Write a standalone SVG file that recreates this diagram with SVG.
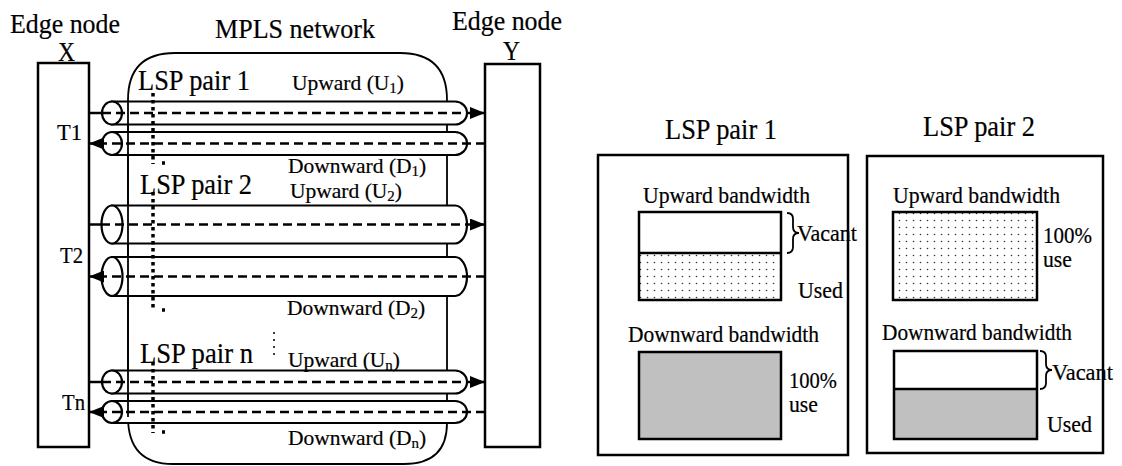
<svg xmlns="http://www.w3.org/2000/svg" width="1122" height="466" viewBox="0 0 1122 466" font-family="'Liberation Serif', 'DejaVu Serif', serif">
  <style>
    text { font-family: 'Liberation Serif', 'Times New Roman', 'DejaVu Serif', serif; fill: #000; stroke: #000; stroke-width: 0.2; }
    .h { font-size: 27px; }
    .t { font-size: 29px; }
    .lbl { font-size: 23px; }
    .flowlbl { font-size: 21.5px; }
    .sub { font-size: 15px; }
    .box { fill: #fff; stroke: #000; stroke-width: 2.5; }
    .frame { fill: none; stroke: #000; stroke-width: 2.5; }
    .cloud { fill: none; stroke: #000; stroke-width: 1.8; }
    .tube { fill: #fff; stroke: #000; stroke-width: 2.2; }
    .flow { stroke: #000; stroke-width: 2.5; stroke-dasharray: 9 5; fill: none; }
    .solid { stroke: #000; stroke-width: 2.5; }
    .pair { stroke: #000; stroke-width: 3.5; stroke-dasharray: 3.5 3.5; fill: none; }
    .brace { fill: none; stroke: #000; stroke-width: 1.8; }
    .bar { stroke: #000; stroke-width: 2.5; }
  </style>
  <defs>
    <marker id="head" viewBox="0 0 15 12" refX="15" refY="6" markerWidth="15" markerHeight="12" markerUnits="userSpaceOnUse" orient="auto">
      <path d="M0,0 L15,6 L0,12 z" fill="#000"/>
    </marker>
    <pattern id="dots" width="7" height="7" patternUnits="userSpaceOnUse">
      <circle cx="3.5" cy="3.5" r="0.8" fill="#333"/>
    </pattern>
  </defs>
  <rect width="1122" height="466" fill="#fff"/>

  <!-- MPLS network cloud -->
  <g id="mpls">
    <path class="cloud" d="M128,100 Q128,53 175,53 H400 Q447,53 447,100 V423 Q447,464 404,464 H173 Q128,464 128,417 Z"/>
    <text class="h" x="215" y="38" textLength="160" lengthAdjust="spacingAndGlyphs">MPLS network</text>
  </g>

  <!-- Edge node X -->
  <g id="edge-x">
    <rect class="box" x="38" y="63" width="51" height="384"/>
    <text class="h" x="10" y="33" textLength="110" lengthAdjust="spacingAndGlyphs">Edge node</text>
    <text class="h" x="58" y="61" textLength="17" lengthAdjust="spacingAndGlyphs">X</text>
    <text class="lbl" x="57" y="140" textLength="25" lengthAdjust="spacingAndGlyphs">T1</text>
    <text class="lbl" x="60" y="263" textLength="23" lengthAdjust="spacingAndGlyphs">T2</text>
    <text class="lbl" x="62" y="410" textLength="23" lengthAdjust="spacingAndGlyphs">Tn</text>
  </g>

  <!-- Edge node Y -->
  <g id="edge-y">
    <rect class="box" x="485" y="64" width="55" height="383"/>
    <text class="h" x="452" y="30" textLength="110" lengthAdjust="spacingAndGlyphs">Edge node</text>
    <text class="h" x="503" y="60" textLength="17" lengthAdjust="spacingAndGlyphs">Y</text>
  </g>

  <!-- LSP tubes -->
  <g id="tubes">
    <path class="tube" d="M112,101.5 H455 A12,11.5 0 0 1 455,124.5 H112 Z"/>
    <ellipse class="tube" cx="112" cy="113" rx="10" ry="11.5"/>
    <path class="tube" d="M112,132 H455 A12,11.5 0 0 1 455,155 H112 Z"/>
    <ellipse class="tube" cx="112" cy="143.5" rx="10" ry="11.5"/>

    <path class="tube" d="M112,205.5 H455 A12,19 0 0 1 455,243.5 H112 Z"/>
    <ellipse class="tube" cx="112" cy="224.5" rx="10.5" ry="19"/>
    <path class="tube" d="M112,257 H455 A12,19.5 0 0 1 455,296 H112 Z"/>
    <ellipse class="tube" cx="112" cy="276.5" rx="10.5" ry="19.5"/>

    <path class="tube" d="M112,370.5 H455 A12,11.5 0 0 1 455,393.5 H112 Z"/>
    <ellipse class="tube" cx="112" cy="382" rx="10" ry="11.5"/>
    <path class="tube" d="M112,401 H455 A12,11 0 0 1 455,423 H112 Z"/>
    <ellipse class="tube" cx="112" cy="412" rx="10" ry="11"/>
    <!-- cloud edge seen through the tubes -->
    <line x1="128" y1="100" x2="128" y2="417" stroke="#000" stroke-width="1.8"/>
  </g>

  <!-- traffic flows -->
  <g id="connectors">
    <line class="solid" x1="89" y1="113" x2="102" y2="113"/>
    <line class="flow" x1="102" y1="113" x2="485" y2="113" marker-end="url(#head)"/>
    <line class="flow" x1="485" y1="143.5" x2="89" y2="143.5" marker-end="url(#head)"/>

    <line class="solid" x1="89" y1="224.5" x2="101" y2="224.5"/>
    <line class="flow" x1="101" y1="224.5" x2="485" y2="224.5" marker-end="url(#head)"/>
    <line class="flow" x1="485" y1="276.5" x2="89" y2="276.5" marker-end="url(#head)"/>

    <line class="solid" x1="89" y1="382" x2="102" y2="382"/>
    <line class="flow" x1="102" y1="382" x2="485" y2="382" marker-end="url(#head)"/>
    <line class="flow" x1="485" y1="412" x2="89" y2="412" marker-end="url(#head)"/>

    <!-- LSP pair groupings -->
    <line class="pair" x1="153" y1="93" x2="153" y2="164"/>
    <line class="pair" x1="162" y1="163" x2="165" y2="163"/>
    <line class="pair" x1="153" y1="192" x2="153" y2="311"/>
    <line class="pair" x1="162" y1="310" x2="165" y2="310"/>
    <line class="pair" x1="153" y1="362" x2="153" y2="433"/>
    <line class="pair" x1="162" y1="432" x2="165" y2="432"/>
    <line x1="274" y1="332" x2="274" y2="357" stroke="#000" stroke-width="1.5" stroke-dasharray="2 5"/>
  </g>

  <!-- labels inside the network -->
  <g id="labels">
    <text class="t" x="138" y="90" textLength="112" lengthAdjust="spacingAndGlyphs">LSP pair 1</text>
    <text class="flowlbl" x="292" y="90">Upward (U<tspan class="sub" dy="3">1</tspan><tspan dy="-3">)</tspan></text>
    <text class="flowlbl" x="288" y="173">Downward (D<tspan class="sub" dy="3">1</tspan><tspan dy="-3">)</tspan></text>
    <text class="t" x="140" y="194" textLength="112" lengthAdjust="spacingAndGlyphs">LSP pair 2</text>
    <text class="flowlbl" x="290" y="198">Upward (U<tspan class="sub" dy="3">2</tspan><tspan dy="-3">)</tspan></text>
    <text class="flowlbl" x="287" y="315">Downward (D<tspan class="sub" dy="3">2</tspan><tspan dy="-3">)</tspan></text>
    <text class="t" x="140" y="363" textLength="113" lengthAdjust="spacingAndGlyphs">LSP pair n</text>
    <text class="flowlbl" x="288" y="367">Upward (U<tspan class="sub" dy="3">n</tspan><tspan dy="-3">)</tspan></text>
    <text class="flowlbl" x="288" y="445">Downward (D<tspan class="sub" dy="3">n</tspan><tspan dy="-3">)</tspan></text>
  </g>

  <!-- bandwidth usage of LSP pair 1 -->
  <g id="usage-pair1">
    <text class="t" x="665" y="139" textLength="112" lengthAdjust="spacingAndGlyphs">LSP pair 1</text>
    <rect class="frame" x="598" y="155" width="250" height="300"/>
    <text class="lbl" x="643" y="203" textLength="167" lengthAdjust="spacingAndGlyphs">Upward bandwidth</text>
    <rect x="639" y="253" width="142" height="47" fill="url(#dots)"/>
    <rect x="639" y="212" width="142" height="88" fill="none" class="bar"/>
    <line class="bar" x1="639" y1="253" x2="781" y2="253"/>
    <path class="brace" d="M787,213 Q793,213 793,219 V227 Q793,233 799,233 Q793,233 793,239 V247 Q793,253 787,253"/>
    <text class="lbl" x="797" y="241" textLength="60" lengthAdjust="spacingAndGlyphs">Vacant</text>
    <text class="lbl" x="798" y="298" textLength="45" lengthAdjust="spacingAndGlyphs">Used</text>
    <text class="lbl" x="628" y="342" textLength="191" lengthAdjust="spacingAndGlyphs">Downward bandwidth</text>
    <rect x="639" y="352" width="142" height="87" fill="#c0c0c0" class="bar"/>
    <text class="lbl" x="789" y="388" textLength="48" lengthAdjust="spacingAndGlyphs">100%</text>
    <text class="lbl" x="789" y="412" textLength="29" lengthAdjust="spacingAndGlyphs">use</text>
  </g>

  <!-- bandwidth usage of LSP pair 2 -->
  <g id="usage-pair2">
    <text class="t" x="923" y="136" textLength="112" lengthAdjust="spacingAndGlyphs">LSP pair 2</text>
    <rect class="frame" x="867" y="156" width="236" height="297"/>
    <text class="lbl" x="893" y="203" textLength="167" lengthAdjust="spacingAndGlyphs">Upward bandwidth</text>
    <rect x="893" y="212" width="144" height="88" fill="url(#dots)"/>
    <rect x="893" y="212" width="144" height="88" fill="none" class="bar"/>
    <text class="lbl" x="1043" y="243" textLength="49" lengthAdjust="spacingAndGlyphs">100%</text>
    <text class="lbl" x="1043" y="267" textLength="29" lengthAdjust="spacingAndGlyphs">use</text>
    <text class="lbl" x="882" y="340" textLength="190" lengthAdjust="spacingAndGlyphs">Downward bandwidth</text>
    <rect x="894" y="389" width="143" height="50" fill="#c0c0c0"/>
    <rect x="894" y="351" width="143" height="88" fill="none" class="bar"/>
    <line class="bar" x1="894" y1="389" x2="1037" y2="389"/>
    <path class="brace" d="M1040,351 Q1046,351 1046,357 V364 Q1046,370 1052,370 Q1046,370 1046,376 V383 Q1046,389 1040,389"/>
    <text class="lbl" x="1052" y="380" textLength="61" lengthAdjust="spacingAndGlyphs">Vacant</text>
    <text class="lbl" x="1047" y="432" textLength="45" lengthAdjust="spacingAndGlyphs">Used</text>
  </g>
</svg>
